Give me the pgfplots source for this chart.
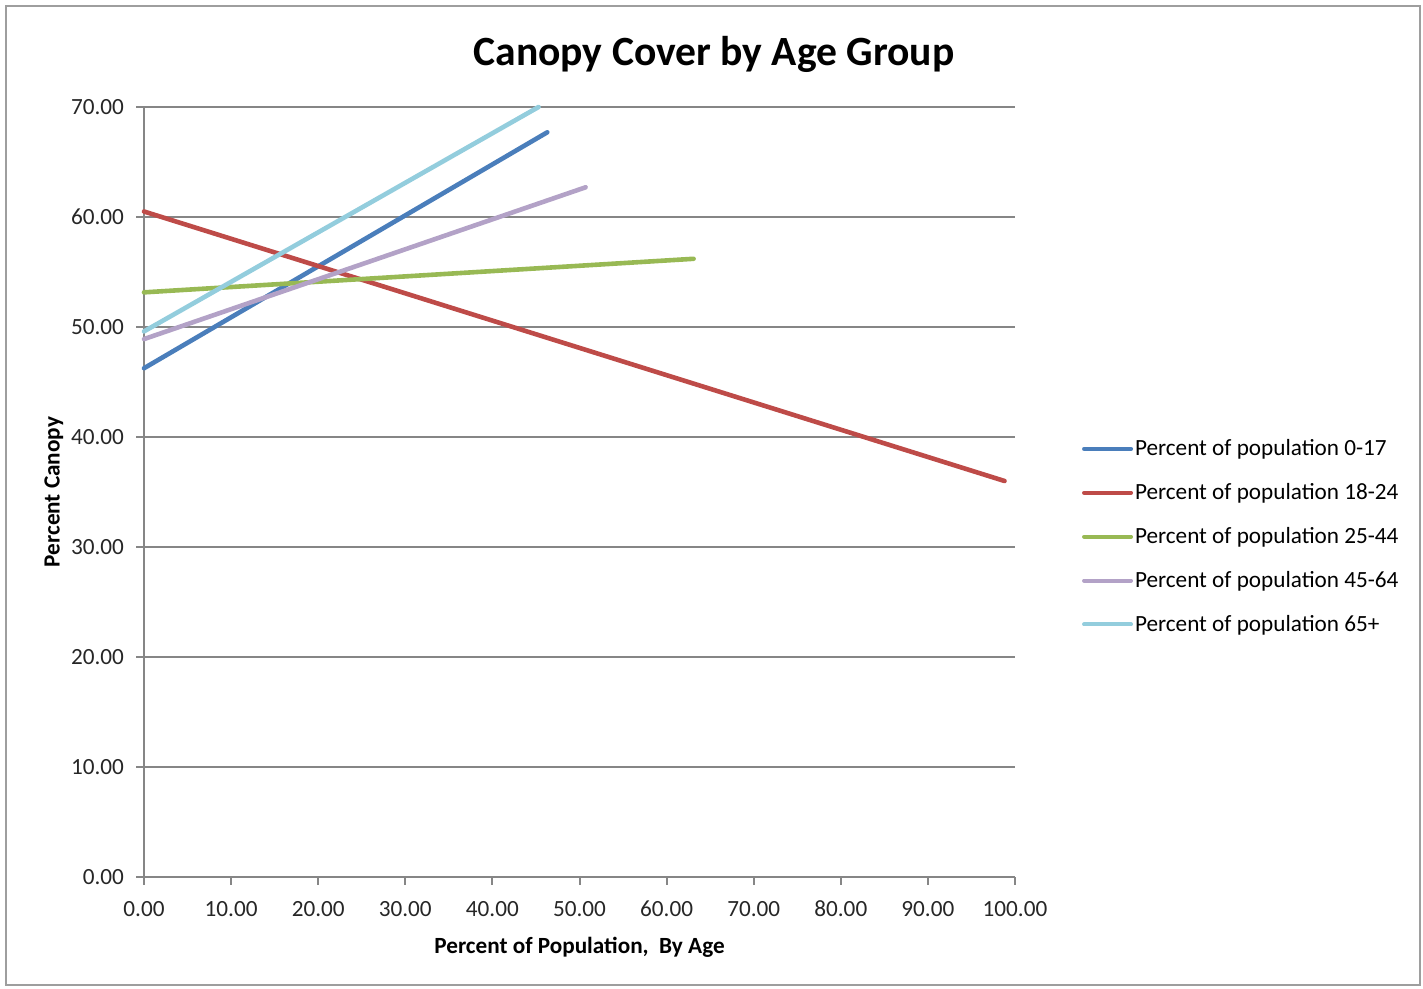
\documentclass[border=0pt]{standalone}
\usepackage{pgfplots}
\pgfplotsset{compat=1.18}
\usepackage{fontspec}
\setmainfont{Carlito}
\definecolor{gridgray}{HTML}{868686}
\definecolor{sBlue}{HTML}{4A7EBB}
\definecolor{sRed}{HTML}{BE4B48}
\definecolor{sGreen}{HTML}{98B954}
\definecolor{sPurple}{HTML}{B3A2C7}
\definecolor{sCyan}{HTML}{93CDDD}
\begin{document}
\begin{tikzpicture}[x=0.5pt,y=0.5pt]
\useasboundingbox (0,0) rectangle (1423,989);
\draw[gridgray!80, line width=1pt] (6,4) rectangle (1420,983);
\node[font=\fontsize{20.8}{24}\selectfont\bfseries] at (714,935) {Canopy Cover by Age Group};
\begin{axis}[
  at={(72pt,56pt)}, anchor=origin,
  scale only axis, width=435.5pt, height=385pt,
  xmin=0, xmax=100, ymin=0, ymax=70,
  xtick={0,10,...,100}, ytick={0,10,...,70},
  axis x line=bottom, axis y line=left,
  axis line style={-, gridgray, line width=1pt},
  tick style={gridgray, line width=1pt},
  tick align=outside, major tick length=4pt,
  ymajorgrids, grid style={gridgray, line width=1pt},
  /pgf/number format/.cd, fixed, zerofill, precision=2, assume math mode=true,
  /pgfplots/.cd,
  ticklabel style={font=\fontsize{11.6}{14}\selectfont, text=black!85},
  xticklabel style={yshift=-4.5pt},
  yticklabel style={xshift=-2.5pt},
  xlabel={Percent of Population,\ \ By Age},
  ylabel={Percent Canopy},
  label style={font=\fontsize{11.6}{13}\selectfont\bfseries},
  xlabel style={yshift=-3pt},
  ylabel style={yshift=-3pt},
  legend style={at={(1.0765,0.442)}, anchor=west, draw=none, fill=none,
    font=\fontsize{11.6}{14}\selectfont, inner sep=0pt,
    nodes={inner xsep=1pt, inner ysep=3.9pt},
    row sep=4.6pt, cells={anchor=west}},
  legend image code/.code={\draw[#1, line width=2pt] (0pt,0pt) -- (23.5pt,0pt);},
  every axis plot/.append style={line width=2.3pt, line cap=round},
  clip=false,
]
\addplot[sBlue] coordinates {(0,46.25) (46.3,67.7)};
\addlegendentry{Percent of population 0-17}
\addplot[sRed] coordinates {(0,60.5) (98.8,36.0)};
\addlegendentry{Percent of population 18-24}
\addplot[sGreen] coordinates {(0,53.15) (63.1,56.2)};
\addlegendentry{Percent of population 25-44}
\addplot[sPurple] coordinates {(0,48.9) (50.7,62.7)};
\addlegendentry{Percent of population 45-64}
\addplot[sCyan] coordinates {(0,49.6) (45.3,70.0)};
\addlegendentry{Percent of population 65+}
\end{axis}
\end{tikzpicture}
\end{document}
